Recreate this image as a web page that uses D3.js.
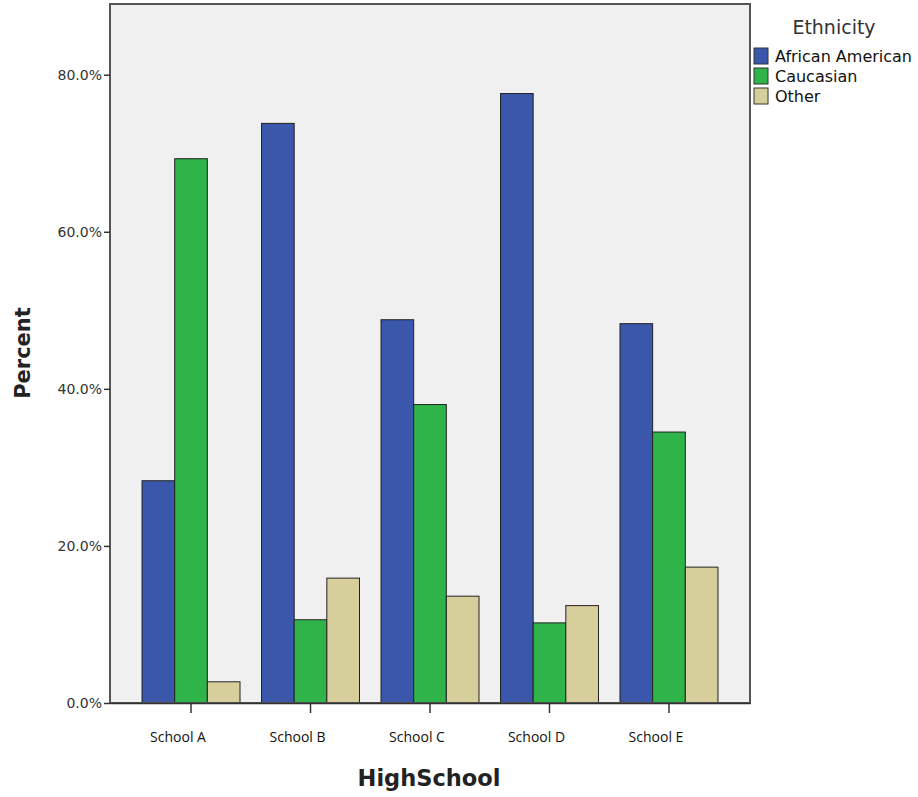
<!DOCTYPE html>
<html><head><meta charset="utf-8">
<script src="https://cdn.jsdelivr.net/npm/d3@7"></script>
<style>body{margin:0;background:#fff}svg{display:block}</style>
</head><body>
<script>
const schools = ["School A","School B","School C","School D","School E"];
const ethnicities = ["African American","Caucasian","Other"];
const africanAmerican = [28.3, 73.8, 48.8, 77.6, 48.3];
const caucasian = [69.3, 10.6, 38.0, 10.2, 34.5];
const other = [2.7, 15.9, 13.6, 12.4, 17.3];
const yTicks = [0, 20, 40, 60, 80];
const colors = ["#3b57ab", "#2fb44a", "#d6cf9b"];

const series = [africanAmerican, caucasian, other];
const W = 918, H = 797;
const m = {left:110, top:4, right:168, bottom:94};
const svg = d3.select("body").append("svg").attr("width", W).attr("height", H);

const x0 = d3.scaleBand().domain(schools).range([m.left, W - m.right]).paddingInner(0.18).paddingOuter(0.268);
const x1 = d3.scaleBand().domain(ethnicities).range([0, x0.bandwidth()]);
const y = d3.scaleLinear().domain([0, 89]).range([H - m.bottom, m.top]);

svg.append("rect").attr("x", m.left).attr("y", m.top)
  .attr("width", W - m.right - m.left).attr("height", H - m.bottom - m.top)
  .attr("fill", "#f0f0f0");

const g = svg.append("g");
schools.forEach((s, i) => {
  ethnicities.forEach((e, j) => {
    g.append("rect")
      .attr("x", x0(s) + x1(e)).attr("y", y(series[j][i]))
      .attr("width", x1.bandwidth()).attr("height", y(0) - y(series[j][i]))
      .attr("fill", colors[j]).attr("stroke", "#222").attr("stroke-width", 1);
  });
});

svg.append("rect").attr("x", m.left).attr("y", m.top)
  .attr("width", W - m.right - m.left).attr("height", H - m.bottom - m.top)
  .attr("fill", "none").attr("stroke", "#555").attr("stroke-width", 2);

// y axis
const yAxis = d3.axisLeft(y).tickValues(yTicks).tickSize(6).tickFormat(d => d.toFixed(1) + "%");
const ya = svg.append("g").attr("transform", `translate(${m.left},0)`).call(yAxis);
ya.select(".domain").remove();
ya.selectAll(".tick line").attr("stroke", "#333").attr("stroke-width", 1.5);
ya.selectAll(".tick text").attr("font-family", "DejaVu Sans").attr("font-size", 14).attr("fill", "#333").attr("x", -8);

// x axis
const xAxis = d3.axisBottom(x0).tickSizeInner(10).tickSizeOuter(0).tickFormat("");
const xa = svg.append("g").attr("transform", `translate(0,${H - m.bottom})`).call(xAxis);
xa.select(".domain").attr("stroke", "#333").attr("stroke-width", 1.5);
xa.selectAll(".tick line").attr("stroke", "#333").attr("stroke-width", 1.5);
xa.selectAll(".tick").append("text").text(d => d)
  .attr("x", -13).attr("y", 39).attr("text-anchor", "middle")
  .attr("font-family", "Open Sans").attr("font-size", 14).attr("fill", "#111");

// titles
svg.append("text").attr("x", 429).attr("y", 786)
  .attr("text-anchor", "middle").attr("font-family", "DejaVu Sans").attr("font-weight", "bold")
  .attr("font-size", 22.5).attr("fill", "#222").text("HighSchool");
svg.append("text").attr("transform", `translate(30,353) rotate(-90)`)
  .attr("text-anchor", "middle").attr("font-family", "DejaVu Sans").attr("font-weight", "bold")
  .attr("font-size", 21).attr("fill", "#222").text("Percent");

// legend
const lg = svg.append("g");
lg.append("text").attr("x", 834).attr("y", 34).attr("text-anchor", "middle")
  .attr("font-family", "DejaVu Sans").attr("font-size", 19).attr("fill", "#333").text("Ethnicity");
ethnicities.forEach((e, j) => {
  lg.append("rect").attr("x", 754).attr("y", 48 + j * 20).attr("width", 14).attr("height", 16)
    .attr("fill", colors[j]).attr("stroke", "#333").attr("stroke-width", 1);
  lg.append("text").attr("x", 775).attr("y", 62 + j * 20)
    .attr("font-family", "DejaVu Sans").attr("font-size", 16).attr("fill", "#111").text(e);
});
</script>
</body></html>
